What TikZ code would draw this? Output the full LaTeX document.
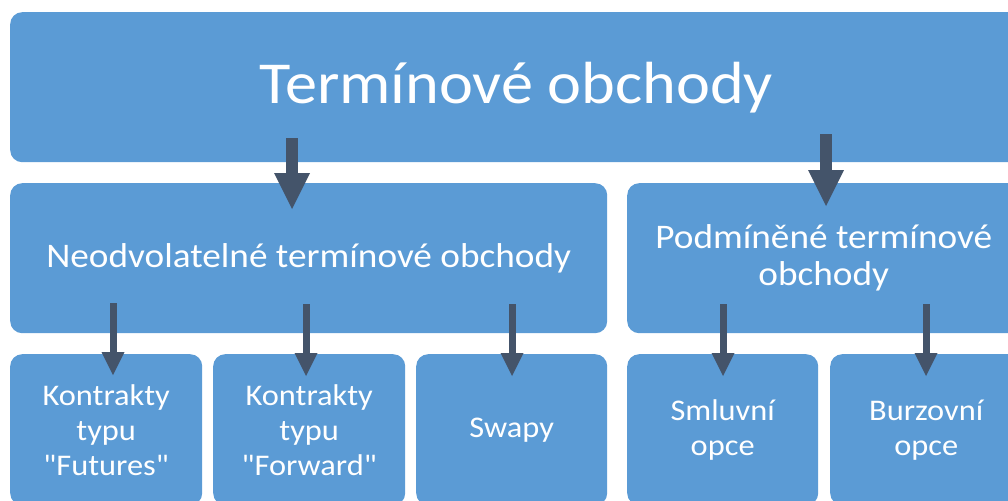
\documentclass[tikz,border=0pt]{standalone}
\usepackage{fontspec}
\setmainfont{Carlito}[Ligatures=TeXOff,FakeStretch=1.08]
\usetikzlibrary{arrows.meta}
\definecolor{boxblue}{HTML}{5B9BD5}
\definecolor{arrowgray}{HTML}{44546A}
\begin{document}
\begin{tikzpicture}[x=1pt,y=-1pt,
  box/.style={fill=boxblue, draw=none, rounded corners=12pt, anchor=north west,
    inner sep=0pt, text=white, align=center},
  bigarrow/.style={draw=arrowgray, line width=12pt,
    -{Triangle[length=36pt,width=36pt,line width=0pt]}},
  smallarrow/.style={draw=arrowgray, line width=7pt,
    -{Triangle[length=23pt,width=23pt,line width=0pt]}},
  titlefont/.style={font=\fontsize{59.5}{72}\selectfont},
  midfont/.style={font=\fontsize{34.5}{37}\selectfont},
  smallfont/.style={font=\fontsize{30}{35}\selectfont}]
\clip (0,0) rectangle (1008,500);
% boxes
\node[box, titlefont, minimum width=1012pt, minimum height=150pt] (top) at (10,12) {Termínové obchody};
\node[box, midfont, minimum width=597pt, minimum height=150pt] (neo) at (10,183) {Neodvolatelné termínové obchody};
\node[box, midfont, minimum width=393pt, minimum height=150pt] (pod) at (627,183) {Podmíněné termínové\\obchody};
\node[box, smallfont, minimum width=192pt, minimum height=151pt] (fut) at (10,354) {Kontrakty\\typu\\"Futures"};
\node[box, smallfont, minimum width=192pt, minimum height=151pt] (fwd) at (213,354) {Kontrakty\\typu\\"Forward"};
\node[box, smallfont, minimum width=191pt, minimum height=151pt] (swp) at (416,354) {Swapy};
\node[box, smallfont, minimum width=191pt, minimum height=151pt] (sml) at (627,354) {Smluvní\\opce};
\node[box, smallfont, minimum width=192pt, minimum height=151pt] (bur) at (830,354) {Burzovní\\opce};
% arrow end points
\coordinate (a1s) at (292,138); \coordinate (a1e) at (292,209);
\coordinate (a2s) at (826,134); \coordinate (a2e) at (826,206);
\coordinate (b1s) at (113,303); \coordinate (b1e) at (113,375);
\coordinate (b2s) at (306,304); \coordinate (b2e) at (306,376);
\coordinate (b3s) at (512,304); \coordinate (b3e) at (512,376);
\coordinate (b4s) at (723,304); \coordinate (b4e) at (723,376);
\coordinate (b5s) at (926,304); \coordinate (b5e) at (926,376);
% arrows
\draw[bigarrow] (a1s) -- (a1e);
\draw[bigarrow] (a2s) -- (a2e);
\draw[smallarrow] (b1s) -- (b1e);
\draw[smallarrow] (b2s) -- (b2e);
\draw[smallarrow] (b3s) -- (b3e);
\draw[smallarrow] (b4s) -- (b4e);
\draw[smallarrow] (b5s) -- (b5e);
\end{tikzpicture}
\end{document}
